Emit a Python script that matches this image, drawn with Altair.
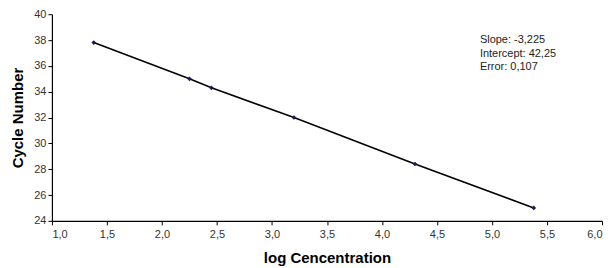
import altair as alt
import pandas as pd

log_conc = [1.38, 2.25, 2.45, 3.20, 4.30, 5.38]
cycle = [37.8, 35.0, 34.3, 32.0, 28.4, 25.0]
ann_x = [4.89]
ann_y = [38.45]
ann_text = ["Slope: -3,225\nIntercept: 42,25\nError: 0,107"]
x_ticks = [1, 1.5, 2, 2.5, 3, 3.5, 4, 4.5, 5, 5.5, 6]
y_ticks = [24, 26, 28, 30, 32, 34, 36, 38, 40]

df = pd.DataFrame({"x": log_conc, "y": cycle})
ann = pd.DataFrame({"x": ann_x, "y": ann_y, "t": ann_text})

fmt = "replace(format(datum.value, '.1f'), '.', ',')"

xs = alt.X("x:Q", scale=alt.Scale(domain=[1, 6], nice=False),
           axis=alt.Axis(title="log Cencentration", values=x_ticks,
                         labelExpr=fmt, grid=False, tickSize=4, labelPadding=4,
                         titlePadding=11, labelOverlap=False))
ys = alt.Y("y:Q", scale=alt.Scale(domain=[24, 40], nice=False),
           axis=alt.Axis(title="Cycle Number", values=y_ticks, grid=False,
                         tickSize=4, labelPadding=2, titlePadding=8, labelOverlap=False))

line = alt.Chart(df).mark_line(color="black", strokeWidth=1.6).encode(x=xs, y=ys)
pts = alt.Chart(df).mark_point(shape="diamond", filled=True, color="#1c1c60", size=22, opacity=1).encode(x=xs, y=ys)
text = alt.Chart(ann).mark_text(align="left", baseline="top", fontSize=11, lineHeight=13.5,
                                font="Liberation Sans", color="#222", lineBreak="\n").encode(
    x=xs, y=ys, text="t:N")

chart = (line + pts + text).properties(
    width=551, height=207,
    padding={"left": 2, "top": 0, "right": 0, "bottom": 0},
).configure_view(stroke=None).configure_axis(
    domainColor="#000", tickColor="#000", labelColor="#333", labelFont="Liberation Sans",
    labelFontSize=11, titleFont="Liberation Sans", titleFontSize=15, titleFontWeight="bold",
    titleColor="#000", domainWidth=1.2,
)

chart.save("out.html", embed_options={"renderer": "svg", "actions": False})
